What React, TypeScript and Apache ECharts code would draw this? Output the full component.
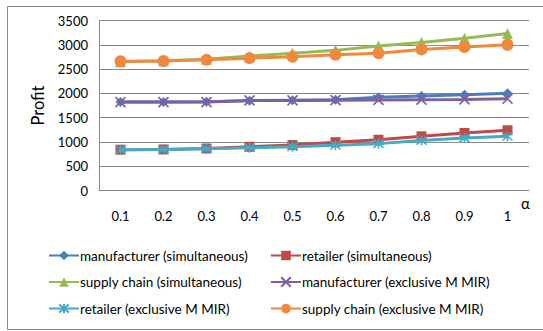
import React, { useEffect, useRef } from "react";
import * as echarts from "echarts";

const categories = ["0.1", "0.2", "0.3", "0.4", "0.5", "0.6", "0.7", "0.8", "0.9", "1"];
const yTicks = [0, 500, 1000, 1500, 2000, 2500, 3000, 3500];

const manufacturerSim = [1820, 1820, 1825, 1850, 1860, 1870, 1920, 1945, 1970, 2000];
const retailerSim = [840, 845, 865, 900, 935, 995, 1045, 1115, 1185, 1240];
const supplySim = [2650, 2670, 2700, 2770, 2825, 2885, 2975, 3045, 3135, 3230];
const manufacturerExcl = [1820, 1820, 1820, 1855, 1855, 1860, 1865, 1870, 1875, 1890];
const retailerExcl = [840, 845, 860, 880, 900, 930, 965, 1030, 1080, 1115];
const supplyExcl = [2660, 2665, 2690, 2725, 2755, 2795, 2825, 2905, 2955, 3000];

const names = [
  "manufacturer (simultaneous)",
  "retailer (simultaneous)",
  "supply chain (simultaneous)",
  "manufacturer (exclusive M MIR)",
  "retailer (exclusive M MIR)",
  "supply chain (exclusive M MIR)",
];
const colors = ["#4A7EBB", "#BE4B48", "#98B954", "#7D60A0", "#46AAC5", "#F0883E"];

const FONT = "Lato";

export default function App() {
  const ref = useRef<HTMLDivElement>(null);
  useEffect(() => {
    if (!ref.current) return;
    const chart = echarts.init(ref.current, null, { renderer: "svg" });
    const datas = [manufacturerSim, retailerSim, supplySim, manufacturerExcl, retailerExcl, supplyExcl];
    const symbols = [
      "diamond",
      "rect",
      "triangle",
      "path://M0,0 L10,10 M10,0 L0,10",
      "path://M0,0 L10,10 M10,0 L0,10 M5,-1 L5,11",
      "circle",
    ];
    const sizes = [10, 10, 11, 10, 10, 12];
    const series = datas.map((d, i) => {
      const stroked = i === 3 || i === 4;
      return {
        name: names[i],
        type: "line",
        data: d,
        symbol: symbols[i],
        symbolSize: sizes[i],
        showSymbol: true,
        color: colors[i],
        lineStyle: { color: colors[i], width: 3 },
        itemStyle: stroked
          ? { color: "rgba(0,0,0,0)", borderColor: colors[i], borderWidth: 1.6 }
          : { color: colors[i] },
        z: 2 + i,
      };
    });
    const legendCommon = {
      orient: "vertical",
      itemWidth: 30,
      itemHeight: 12,
      itemGap: 12.5,
      textStyle: { fontFamily: FONT, fontSize: 13.5, color: "#000", padding: [0, 0, 0, -4] },
      padding: 0,
    };
    chart.setOption({
      animation: false,
      textStyle: { fontFamily: FONT },
      grid: { left: 99, top: 20.5, right: 14, bottom: 140.5, containLabel: false },
      legend: [
        { ...legendCommon, left: 48, top: 248.5, data: [names[0], names[2], names[4]] },
        { ...legendCommon, left: 270, top: 248.5, data: [names[1], names[3], names[5]] },
      ],
      graphic: [
        {
          type: "rect",
          shape: { x: 7.5, y: 6.5, width: 545, height: 323 },
          style: { fill: "none", stroke: "#8a8a8a", lineWidth: 1 },
          silent: true,
          z: -1,
        },
        {
          type: "text",
          x: 521,
          y: 195,
          style: { text: "α", fontFamily: FONT, fontSize: 15, fill: "#000" },
        },
      ],
      xAxis: {
        type: "category",
        data: categories,
        boundaryGap: true,
        axisLine: { lineStyle: { color: "#8a8a8a", width: 1 } },
        axisTick: { show: false },
        axisLabel: { color: "#000", fontFamily: FONT, fontSize: 13, margin: 19 },
      },
      yAxis: {
        type: "value",
        min: yTicks[0],
        max: yTicks[yTicks.length - 1],
        interval: 500,
        name: "Profit",
        nameLocation: "middle",
        nameGap: 53,
        nameRotate: 90,
        nameTextStyle: { fontFamily: FONT, fontSize: 16.5, color: "#000" },
        axisLine: { show: true, lineStyle: { color: "#8a8a8a", width: 1 } },
        axisTick: { show: false },
        axisLabel: {
          color: "#000",
          fontFamily: FONT,
          fontSize: 13,
          margin: 11,
          formatter: (v: number) => String(v),
        },
        splitLine: { lineStyle: { color: "#8a8a8a", width: 1 } },
      },
      series,
    });
    return () => chart.dispose();
  }, []);
  return <div ref={ref} style={{ width: 543, height: 331, position: "absolute", left: 0, top: 0, background: "#fff" }} />;
}
